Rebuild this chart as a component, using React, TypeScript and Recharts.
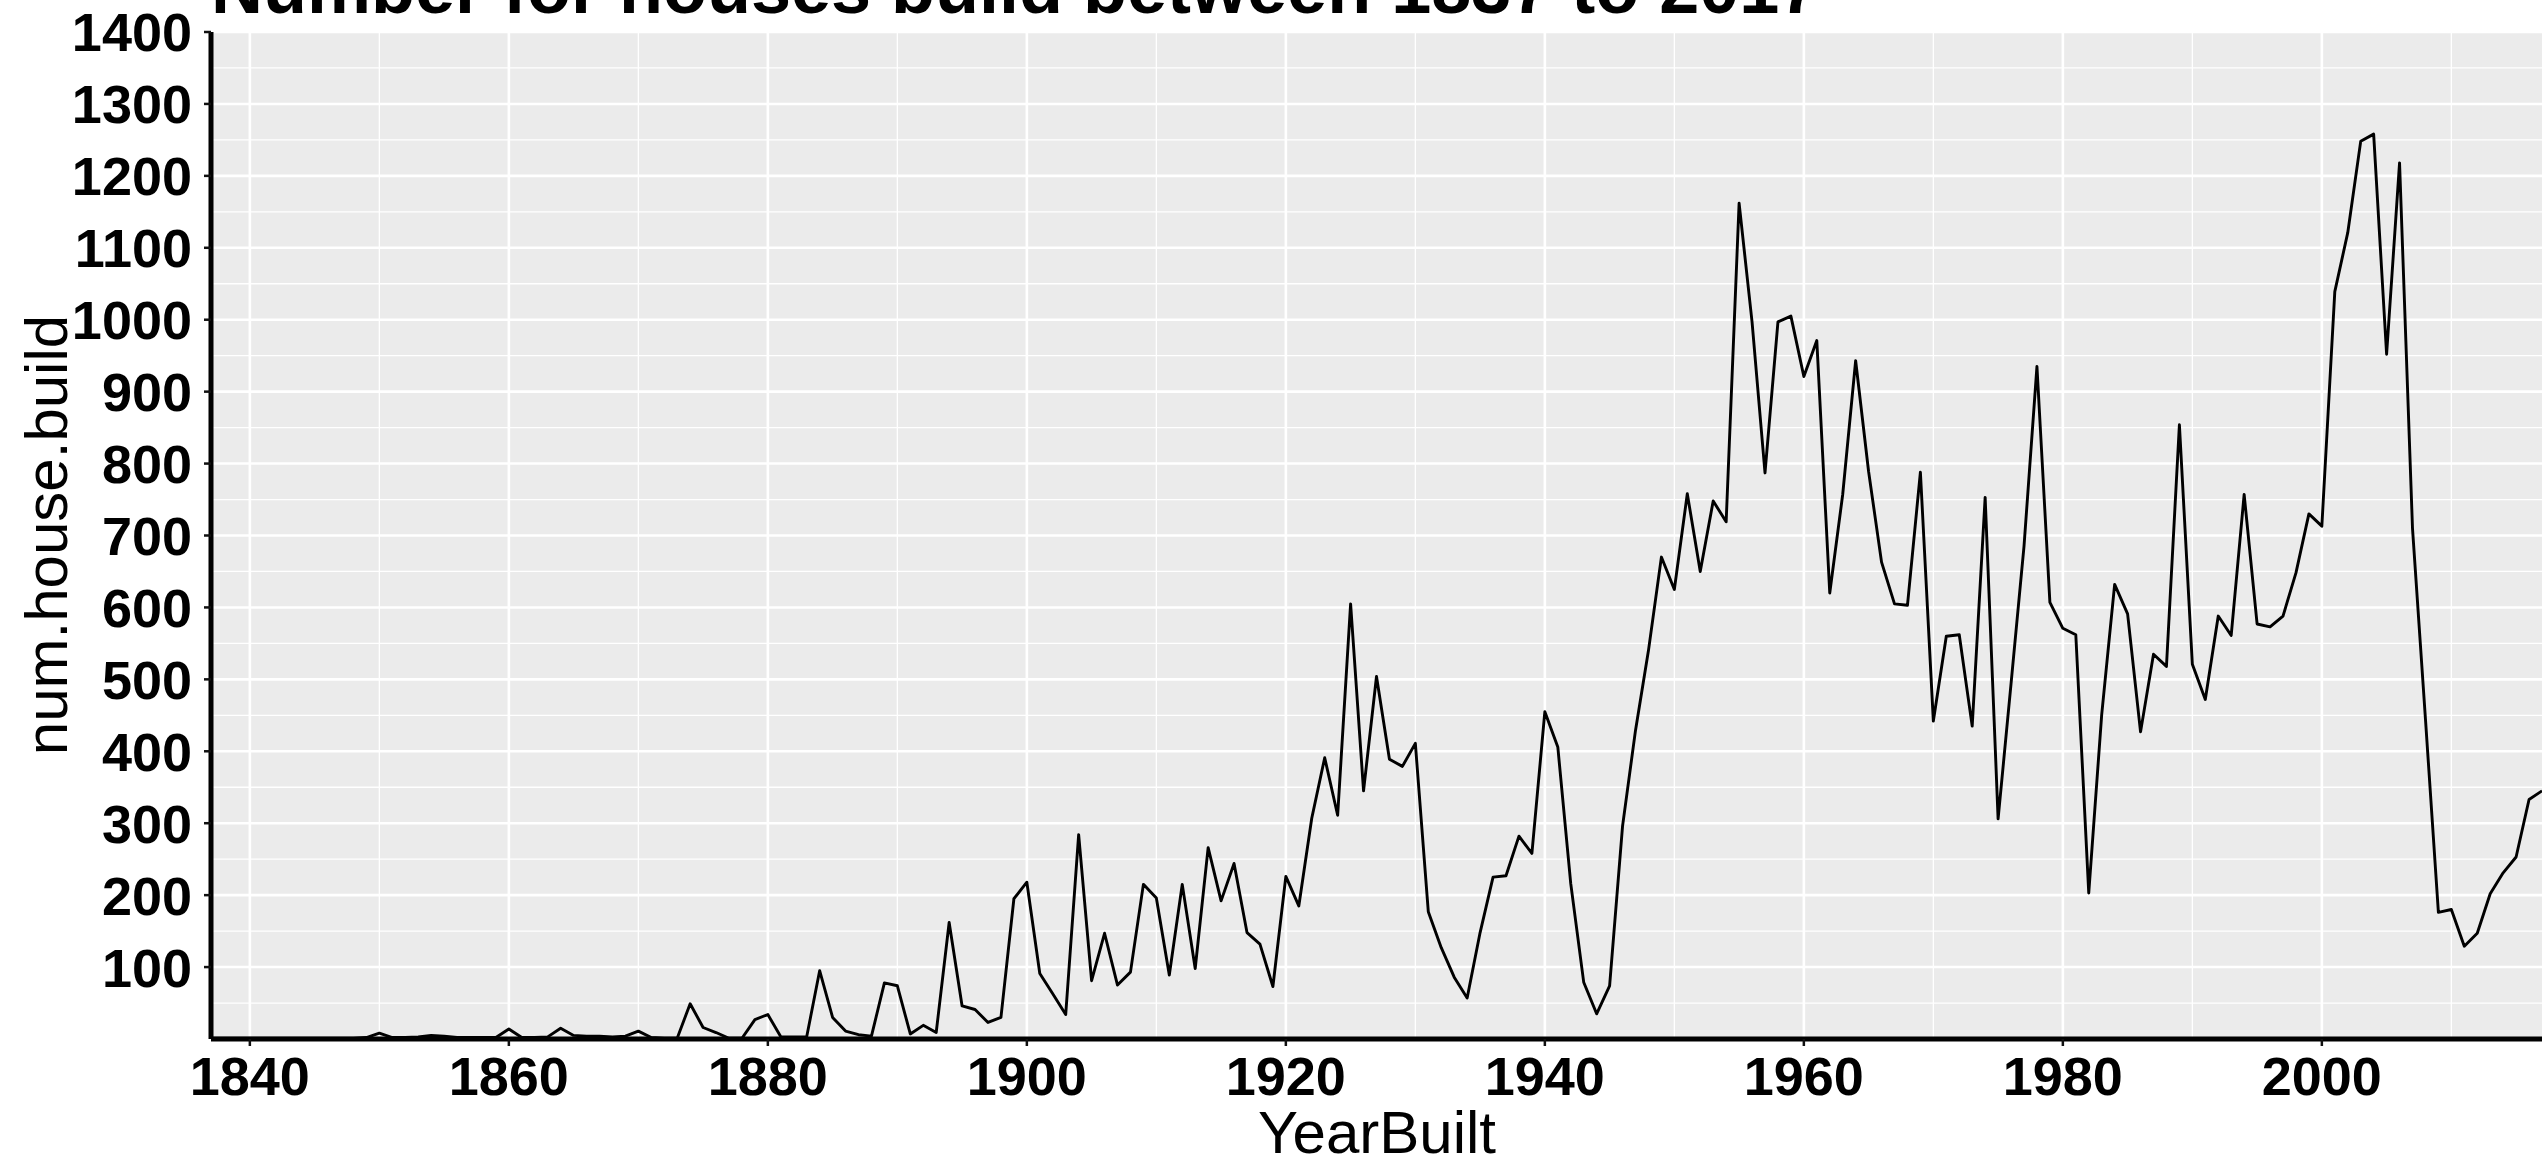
import { LineChart, Line, XAxis, YAxis, CartesianGrid } from 'recharts';

// Houses built per year
const firstYear = 1837;
const counts1837to1899 = [
  1, 1, 1, 1, 1, 1, 1, 1, 1, 1, 1, 1, 2,
  8, 2, 2, 3, 5, 4, 2, 2, 2, 2,
  14, 2, 2, 3, 15, 5, 4, 4, 3, 4,
  11, 2, 1, 1, 49, 16, 9, 1, 1, 27,
  34, 3, 3, 3, 95, 30, 11, 6, 4, 78,
  74, 7, 19, 9, 162, 46, 41, 23, 30, 195,
];
const counts1900to1959 = [
  218, 91, 63, 34, 284, 81, 147, 75, 93, 215,
  196, 89, 215, 98, 266, 192, 244, 148, 132, 73,
  226, 185, 307, 391, 311, 605, 345, 504, 389, 379,
  411, 177, 127, 86, 57, 148, 225, 227, 282, 258,
  455, 406, 216, 79, 35, 74, 296, 429, 540, 670,
  625, 758, 650, 748, 719, 1162, 997, 787, 997, 1005,
];
const counts1960to2017 = [
  921, 971, 620, 757, 943, 789, 663, 605, 603, 788,
  442, 560, 562, 435, 753, 306, 494, 685, 935, 607,
  571, 562, 203, 451, 632, 591, 427, 535, 518, 854,
  521, 472, 588, 561, 757, 577, 573, 588, 648, 730,
  713, 1039, 1121, 1248, 1258, 952, 1218, 710, 445, 176,
  180, 129, 147, 202, 231, 253, 333, 345,
];

const xTicks = [1840, 1860, 1880, 1900, 1920, 1940, 1960, 1980, 2000];
const xMinor = [1850, 1870, 1890, 1910, 1930, 1950, 1970, 1990, 2010];
const yTicks = [100, 200, 300, 400, 500, 600, 700, 800, 900, 1000, 1100, 1200, 1300, 1400];
const yMinor = [50, 150, 250, 350, 450, 550, 650, 750, 850, 950, 1050, 1150, 1250, 1350];

const allCounts = [...counts1837to1899, ...counts1900to1959, ...counts1960to2017];
const data = allCounts.map((count, i) => ({ year: firstYear + i, count }));

const FONT = '"Liberation Sans", Arial, Helvetica, sans-serif';

const XTick = ({ x, y, payload }: any) => (
  <text x={x} y={y} dy="0.72em" textAnchor="middle" fontSize={54} fontWeight="bold" fill="#000" fontFamily={FONT}>
    {payload.value}
  </text>
);

const YTick = ({ x, y, payload }: any) => (
  <text x={x} y={y} dy="0.36em" textAnchor="end" fontSize={54} fontWeight="bold" fill="#000" fontFamily={FONT}>
    {payload.value}
  </text>
);

const App = () => {
  return (
    <div style={{ position: 'absolute', left: 0, top: 0, width: 2542, height: 1158, overflow: 'hidden', background: '#fff', fontFamily: FONT }}>
      <LineChart width={2542} height={1158} data={data} margin={{ top: 32, right: 0, bottom: 0, left: 0 }}>
        <CartesianGrid
          fill="#EBEBEB"
          fillOpacity={1}
          stroke="#fff"
          strokeWidth={1.3}
          verticalValues={xMinor}
          horizontalValues={yMinor}
        />
        <CartesianGrid
          stroke="#fff"
          strokeWidth={2.6}
          verticalValues={xTicks}
          horizontalValues={yTicks}
        />
        <XAxis
          dataKey="year"
          type="number"
          domain={[1837, 2017]}
          allowDataOverflow
          ticks={xTicks}
          interval={0}
          height={119}
          tickSize={7}
          tickMargin={10}
          tick={<XTick />}
          tickLine={{ stroke: '#111', strokeWidth: 2.5 }}
          axisLine={{ stroke: '#000', strokeWidth: 5 }}
        />
        <YAxis
          type="number"
          domain={[0, 1400]}
          allowDataOverflow
          ticks={yTicks}
          interval={0}
          width={211}
          tickSize={7}
          tickMargin={12}
          tick={<YTick />}
          tickLine={{ stroke: '#111', strokeWidth: 2.5 }}
          axisLine={{ stroke: '#000', strokeWidth: 5 }}
        />
        <Line
          type="linear"
          dataKey="count"
          stroke="#000"
          strokeWidth={2.9}
          strokeLinejoin="round"
          dot={false}
          activeDot={false}
          isAnimationActive={false}
        />
      </LineChart>
      <svg width={2542} height={1158} style={{ position: 'absolute', left: 0, top: 0, pointerEvents: 'none' }}>
        <text x={211} y={13} fontSize={72} fontWeight="bold" fill="#000" fontFamily={FONT}>
          Number for houses build between 1837 to 2017
        </text>
        <text x={67} y={535} transform="rotate(-90 67 535)" textAnchor="middle" fontSize={60} fill="#000" fontFamily={FONT}>
          num.house.build
        </text>
        <text x={1377} y={1153} textAnchor="middle" fontSize={60} fill="#000" fontFamily={FONT}>
          YearBuilt
        </text>
      </svg>
    </div>
  );
};

export default App;
